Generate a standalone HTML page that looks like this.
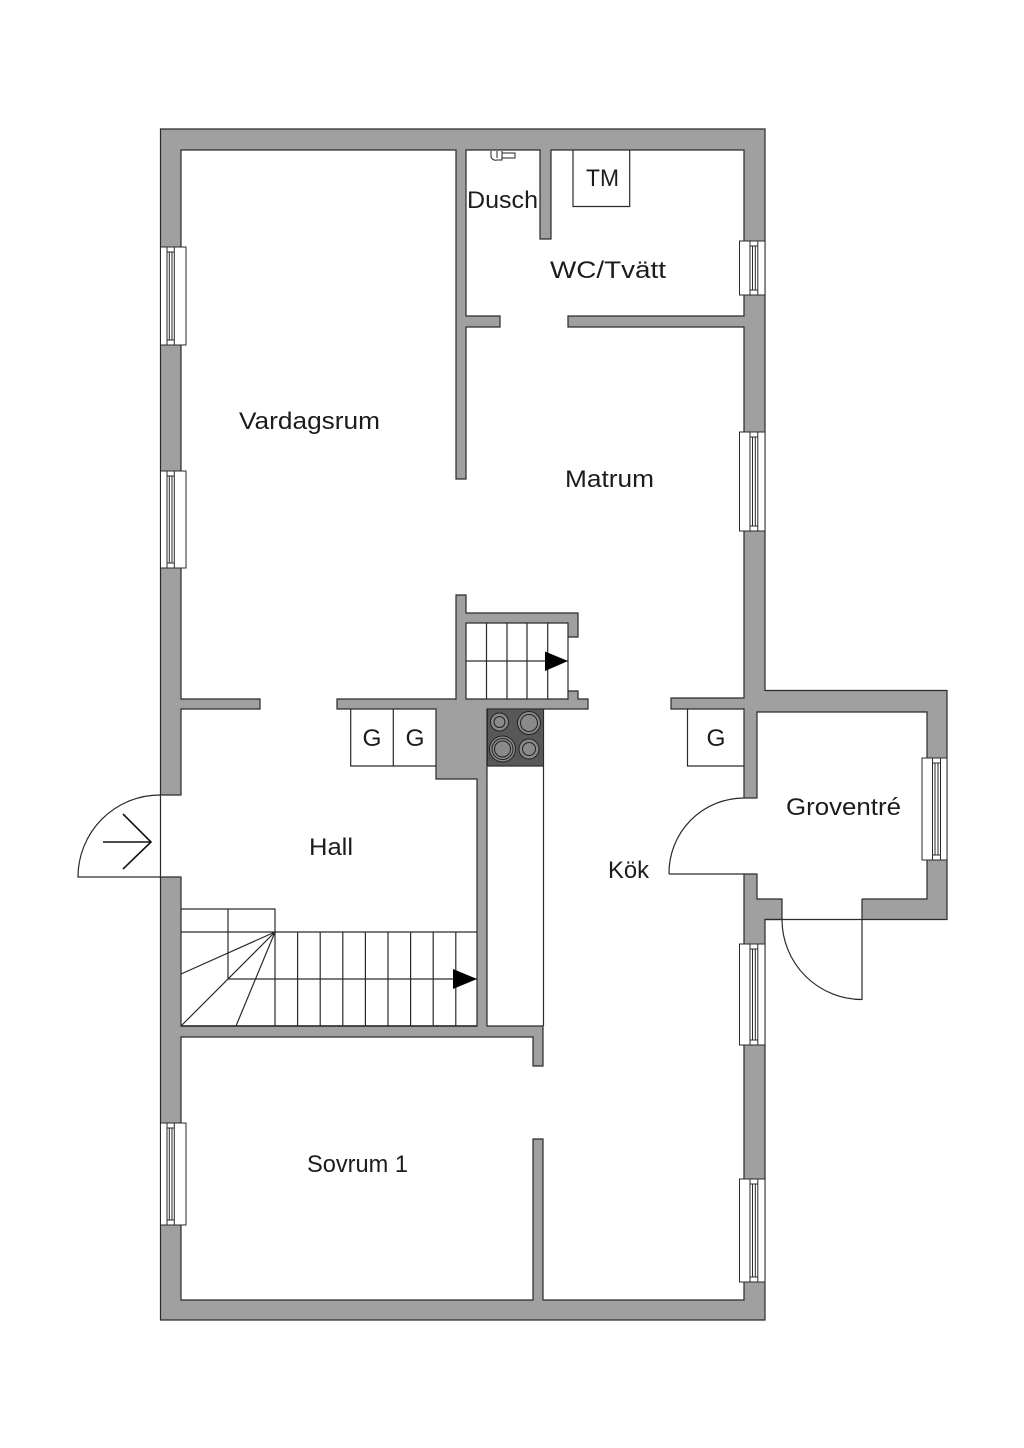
<!DOCTYPE html>
<html lang="sv"><head><meta charset="utf-8"><title>Planritning</title>
<style>html,body{margin:0;padding:0;background:#fff}svg{display:block}text{font-family:"Liberation Sans",sans-serif;font-size:24px;fill:#1c1c1c}</style>
</head><body>
<svg width="1024" height="1448" viewBox="0 0 1024 1448" xmlns="http://www.w3.org/2000/svg">
<rect width="1024" height="1448" fill="#fff"/>
<path fill="#a0a0a0" stroke="#2a2a2a" stroke-width="1.200" fill-rule="evenodd" d="M160.500 129H765V690.500H947V919.500H765V1320H160.500Z
M181 150H456V479H466V327H500V316H466V150H540V239H551V150H744V316H568V327H744V698H671V709H744V1300H543V1139H533V1300H181V1037H533V1066H543V1026H487V709H588V699H578V691H568V699H466V623H568V637H578V613H466V595H456V699H337V709H436V779H477V1026H181V709H260V699H181Z
M757 712H927V899H757Z"/>
<g fill="#fff" stroke="none">
<rect x="159" y="795.500" width="24" height="81"/>
<rect x="742" y="798.500" width="17" height="75"/>
<rect x="782.500" y="897" width="79.500" height="24"/>
</g>
<g fill="none" stroke="#2a2a2a" stroke-width="1.200">
<path d="M161 795H181M161 877H181M744 798H757M744 874H757M160.500 795V877M160.500 877H78A82 82 0 0 1 160.500 795"/>
<path d="M669 874H744M669 874A75 75 0 0 1 744 798"/>
<path d="M765 919.500H862M782 899V920A80 80 0 0 0 862 999.500V899"/>
<path d="M350.700 709V766H436M393.300 709V766M687.500 709V766H744M573 150V206.500H629.700V150"/>
<path d="M487 766H543.500M543.500 709V1026"/>
<path d="M568 637V691"/>
<path d="M486.500 623V699M507 623V699M527 623V699M547.700 623V699M466 661H568"/>
<path d="M181 909H275V1026M181 932H477M228 909V979H477M275 932L181 974M275 932L181 1026M275 932L236 1026"/>
<path d="M297.600 932V1026M320.200 932V1026M342.800 932V1026M365.400 932V1026M388 932V1026M410.600 932V1026M433.200 932V1026M455.800 932V1026"/>
<path d="M181 1026H477" stroke-width="1.600"/>
</g>
<path d="M545 651.500L568 661L545 671Z M453 969L477 979L453 989Z" fill="#000"/>
<path d="M103 842H151M123 814L151 842L123 869" fill="none" stroke="#111" stroke-width="1.600"/>
<rect x="487.500" y="709" width="56" height="57" fill="#585858" stroke="#2a2a2a"/>
<g stroke="#222" fill="#8a8a8a">
<circle cx="499.500" cy="722" r="9"/><circle cx="499.500" cy="722" r="5.500" stroke-width="1"/>
<circle cx="529" cy="723" r="11.500"/><circle cx="529" cy="723" r="8.500"/>
<circle cx="502.500" cy="749" r="13"/><circle cx="502.500" cy="749" r="10.500"/><circle cx="502.500" cy="749" r="8"/>
<circle cx="529" cy="749" r="10"/><circle cx="529" cy="749" r="6.500"/>
</g>
<g fill="none" stroke="#222" stroke-width="1">
<path d="M491 151V157Q493 161 497 160H502V151M497 151V158M502 153H515V158H502"/>
</g>
<g fill="#fff" stroke="#2a2a2a" stroke-width="1">
<rect x="160.500" y="247" width="25.500" height="98"/>
<path d="M167 247V345M169.300 252V340M172 252V340M174.300 247V345M167 252H174.300M167 340H174.300" fill="none"/>
<rect x="160.500" y="471" width="25.500" height="97"/>
<path d="M167 471V568M169.300 476V563M172 476V563M174.300 471V568M167 476H174.300M167 563H174.300" fill="none"/>
<rect x="160.500" y="1123" width="25.500" height="102"/>
<path d="M167 1123V1225M169.300 1128V1220M172 1128V1220M174.300 1123V1225M167 1128H174.300M167 1220H174.300" fill="none"/>
<rect x="739.500" y="241" width="25.500" height="54"/>
<path d="M750 241V295M752.500 246V290M755.300 246V290M757.800 241V295M750 246H757.800M750 290H757.800" fill="none"/>
<rect x="739.500" y="432" width="25.500" height="99"/>
<path d="M750 432V531M752.500 437V526M755.300 437V526M757.800 432V531M750 437H757.800M750 526H757.800" fill="none"/>
<rect x="739.500" y="944" width="25.500" height="101"/>
<path d="M750 944V1045M752.500 949V1040M755.300 949V1040M757.800 944V1045M750 949H757.800M750 1040H757.800" fill="none"/>
<rect x="739.500" y="1179" width="25.500" height="103"/>
<path d="M750 1179V1282M752.500 1184V1277M755.300 1184V1277M757.800 1179V1282M750 1184H757.800M750 1277H757.800" fill="none"/>
<rect x="922" y="758" width="25" height="102"/>
<path d="M932.500 758V860M935 763V855M938 763V855M940.500 758V860M932.500 763H940.500M932.500 855H940.500" fill="none"/>
</g>
<text x="239" y="429" textLength="141" lengthAdjust="spacingAndGlyphs">Vardagsrum</text>
<text x="565" y="487" textLength="89" lengthAdjust="spacingAndGlyphs">Matrum</text>
<text x="550" y="278" textLength="116" lengthAdjust="spacingAndGlyphs">WC/Tvätt</text>
<text x="467" y="208" textLength="71" lengthAdjust="spacingAndGlyphs">Dusch</text>
<text x="586" y="186" textLength="33" lengthAdjust="spacingAndGlyphs">TM</text>
<text x="309" y="855" textLength="44" lengthAdjust="spacingAndGlyphs">Hall</text>
<text x="786" y="815" textLength="115" lengthAdjust="spacingAndGlyphs">Groventré</text>
<text x="608" y="878" textLength="41" lengthAdjust="spacingAndGlyphs">Kök</text>
<text x="307" y="1172" textLength="101" lengthAdjust="spacingAndGlyphs">Sovrum 1</text>
<text x="362.500" y="746" textLength="19" lengthAdjust="spacingAndGlyphs">G</text>
<text x="405.500" y="746" textLength="19" lengthAdjust="spacingAndGlyphs">G</text>
<text x="706.500" y="746" textLength="19" lengthAdjust="spacingAndGlyphs">G</text>
</svg>
</body></html>
